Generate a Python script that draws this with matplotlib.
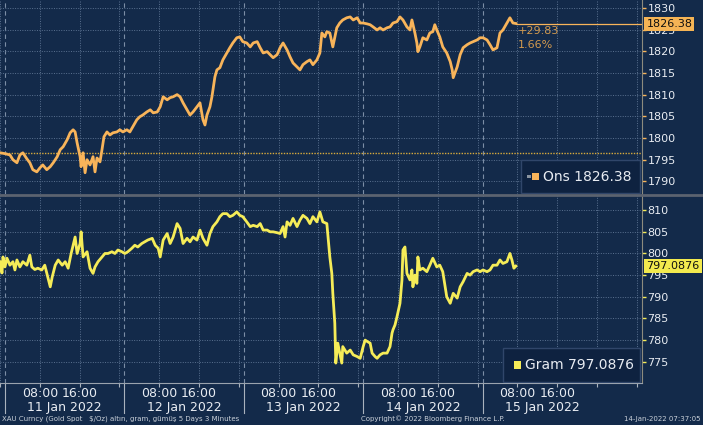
import matplotlib.pyplot as plt
import matplotlib.transforms as mtransforms
from matplotlib.patches import Rectangle
from matplotlib.lines import Line2D

plt.rcParams['font.family'] = ['DejaVu Sans']

# time axis is hours since 11 Jan 00:00 (chart time)
ons_t = [0.0, 1.0, 2.0, 2.6, 3.4, 4.0, 4.6, 5.4, 6.0, 6.6,
         7.4, 8.0, 8.6, 9.4, 10.1, 10.7, 11.5, 12.1, 12.7, 13.5,
         14.1, 14.7, 15.1, 15.5, 16.1, 16.3, 16.7, 17.1, 17.5, 18.1,
         18.7, 19.1, 19.5, 20.1, 20.5, 20.9, 21.5, 22.1, 22.7, 23.5,
         24.1, 24.7, 25.5, 26.1, 26.7, 27.5, 28.1, 28.7, 29.5, 30.2,
         30.8, 31.6, 32.2, 32.8, 33.6, 34.2, 34.8, 35.6, 36.2, 36.8,
         37.6, 38.2, 38.8, 39.6, 40.2, 40.8, 41.2, 41.6, 42.2, 42.6,
         43.2, 43.6, 44.2, 44.8, 45.6, 46.2, 46.8, 47.6, 48.2, 48.8,
         49.6, 50.3, 50.9, 51.7, 52.3, 52.9, 53.7, 54.3, 54.9, 55.7,
         56.3, 56.9, 57.7, 58.3, 58.9, 59.7, 60.3, 60.9, 61.7, 62.3,
         62.9, 63.7, 64.3, 64.7, 65.3, 65.7, 66.3, 66.9, 67.7, 68.3,
         68.9, 69.7,
         70.4, 71.0, 71.8, 72.4, 73.0, 73.8, 74.4, 75.0, 75.8, 76.4,
         77.0, 77.8, 78.4, 79.0, 79.8, 80.4, 81.0, 81.8, 82.4, 82.8,
         83.4, 83.8, 84.0, 84.4, 85.0, 85.8, 86.4, 87.0, 87.4, 87.8,
         88.4, 89.0, 89.4, 89.8, 90.5, 90.9, 91.1, 91.9, 92.5, 93.1,
         93.9, 94.5, 95.1, 95.9, 96.5, 97.1, 97.9, 98.5, 99.1, 99.9,
         100.5, 101.1, 101.9, 102.5, 103.1, 103.7]
ons_v = [1796.6, 1796.4, 1796.1, 1795.0, 1794.3, 1796.1, 1796.6, 1795.2, 1794.3, 1792.7,
         1792.2, 1793.1, 1793.8, 1792.7, 1793.4, 1794.3, 1795.7, 1797.3, 1798.0, 1799.6,
         1801.2, 1801.9, 1801.4, 1798.9, 1795.7, 1793.4, 1796.6, 1792.0, 1795.0, 1793.8,
         1795.7, 1792.2, 1795.4, 1794.5, 1797.3, 1800.3, 1801.4, 1800.7, 1801.2, 1801.4,
         1801.9, 1801.4, 1801.9, 1801.4, 1802.6, 1804.2, 1804.9, 1805.3, 1806.0, 1806.5,
         1805.8, 1806.0, 1807.2, 1809.5, 1808.8, 1809.3, 1809.5, 1810.0, 1809.5, 1808.1,
         1806.5, 1805.3, 1806.0, 1807.2, 1808.1, 1804.2, 1803.0, 1805.3, 1807.2, 1809.5,
         1814.1, 1815.7, 1816.2, 1818.0, 1819.6, 1820.8, 1821.9, 1823.1, 1823.3, 1822.2,
         1821.9, 1821.0, 1821.9, 1822.2, 1820.8, 1819.6, 1819.9, 1819.2, 1818.5, 1819.2,
         1820.8, 1821.9, 1820.3, 1818.7, 1817.3, 1816.4, 1815.7, 1816.9, 1817.6, 1818.0,
         1816.9, 1818.0, 1819.6, 1824.2, 1823.3, 1824.5, 1824.2, 1821.0, 1825.4, 1826.5,
         1827.2, 1827.7,
         1827.9, 1827.2, 1827.7, 1826.5, 1826.5, 1826.3, 1826.1, 1825.6, 1824.9, 1825.4,
         1824.9, 1825.4, 1825.6, 1826.5, 1826.8, 1827.9, 1827.2, 1825.6, 1824.9, 1827.2,
         1824.2, 1821.9, 1819.9, 1821.0, 1823.1, 1822.6, 1824.2, 1824.5, 1826.1, 1824.9,
         1823.3, 1821.0, 1820.3, 1819.6, 1817.6, 1815.7, 1813.9, 1816.4, 1819.2, 1820.8,
         1821.5, 1821.9, 1822.2, 1822.6, 1823.1, 1823.1, 1822.6, 1821.5, 1820.3, 1820.8,
         1824.2, 1824.9, 1826.5, 1827.7, 1826.5, 1826.38]
ons_prev_close = 1796.55

gram_t = [0.0, 0.4, 0.6, 1.0, 1.4, 2.0, 2.6, 3.0, 3.4, 4.0,
          4.6, 5.4, 6.0, 6.4, 7.0, 7.6, 8.4, 9.0, 9.6, 10.1,
          10.5, 11.1, 11.7, 12.5, 13.1, 13.7, 14.3, 15.1, 15.5, 16.1,
          16.3, 16.7, 17.5, 18.1, 18.7, 19.1, 19.7, 20.5, 21.1, 21.7,
          22.5, 23.1, 23.7, 24.5, 25.1, 25.7, 26.5, 27.1, 27.7, 28.5,
          29.1, 29.7, 30.6, 31.2, 31.8, 32.2, 32.8, 33.6, 34.2, 34.8,
          35.6, 36.2, 36.8, 37.6, 38.2, 38.8, 39.6, 40.2, 40.8, 41.6,
          42.2, 42.8, 43.6, 44.2, 44.8, 45.6, 46.2, 46.8, 47.6, 48.2,
          48.8, 49.6, 50.3, 50.9, 51.7, 52.3, 52.9, 53.7, 54.3, 54.9,
          55.7, 56.3, 56.9, 57.3, 57.7, 58.3, 58.9, 59.7, 60.3, 60.9,
          61.7, 62.3, 62.9, 63.7, 64.3, 64.9, 65.7, 66.3, 66.7, 66.9,
          67.3, 67.5, 67.9, 68.3, 68.7, 68.9, 69.7, 70.4,
          71.0, 71.8, 72.4, 73.0, 73.4, 73.8, 74.4, 74.8, 75.4, 75.8,
          76.4, 77.0, 77.8, 78.4, 78.8, 79.0, 79.4, 79.8, 80.4, 80.8,
          81.0, 81.4, 81.8, 82.4, 82.8, 83.0, 83.4, 83.8, 84.0, 84.4,
          85.0, 85.8, 86.4, 87.0, 87.8, 88.4, 89.0, 89.8, 90.5, 91.1,
          91.9, 92.5, 93.1, 93.9, 94.5, 95.1, 95.9, 96.5, 97.1, 97.9,
          98.5, 99.1, 99.9, 100.5, 101.1, 101.9, 102.5, 102.9, 103.3, 103.7]
gram_v = [798.1, 795.5, 799.2, 796.9, 798.9, 797.3, 798.1, 796.2, 798.5, 796.9,
          798.1, 797.3, 799.6, 796.9, 796.3, 796.6, 796.2, 797.3, 794.6, 792.3,
          794.6, 797.3, 798.5, 797.3, 798.1, 796.6, 800.0, 803.8, 800.0, 802.3,
          805.0, 799.2, 800.4, 796.6, 795.4, 796.9, 798.1, 799.2, 800.0, 800.0,
          800.4, 800.0, 800.8, 800.4, 800.0, 800.4, 801.2, 801.9, 801.5, 802.3,
          802.7, 803.1, 803.5, 801.9, 801.2, 799.2, 803.1, 804.6, 802.3, 803.8,
          806.9, 805.8, 802.3, 803.5, 802.7, 803.8, 803.1, 805.4, 803.5, 801.9,
          804.6, 806.2, 807.3, 808.5, 809.2, 809.2, 808.5, 808.8, 809.6, 808.8,
          808.5, 807.3, 806.2, 806.5, 806.2, 806.9, 805.4, 805.4, 805.0, 805.0,
          804.8, 804.6, 806.2, 803.8, 807.3, 806.5, 808.1, 806.2, 807.7, 808.8,
          808.1, 806.9, 808.5, 807.3, 809.6, 807.3, 806.9, 799.2, 795.4, 790.8,
          783.9, 774.7, 779.3, 777.0, 774.7, 778.5, 777.0, 777.7,
          776.6, 776.2, 775.8, 778.5, 780.0, 779.7, 779.3, 777.0, 776.2, 775.8,
          776.6, 777.0, 777.0, 778.5, 781.6, 782.4, 783.5, 785.4, 788.5, 793.9,
          800.8, 801.5, 795.4, 793.9, 796.2, 792.3, 795.0, 793.1, 799.2, 796.2,
          796.6, 795.8, 797.3, 798.9, 796.9, 797.3, 795.8, 790.0, 788.5, 790.8,
          789.7, 792.3, 793.5, 795.4, 795.0, 795.8, 796.2, 795.8, 796.2, 795.8,
          796.2, 797.3, 797.3, 798.5, 797.7, 798.1, 800.0, 798.5, 796.6, 797.0876]

day_labels = ['11 Jan 2022', '12 Jan 2022', '13 Jan 2022', '14 Jan 2022', '15 Jan 2022']
ons_ticks = [1790, 1795, 1800, 1805, 1810, 1815, 1820, 1825, 1830]
gram_ticks = [775, 780, 785, 790, 795, 800, 805, 810]

BG = '#132a4a'
GRID = '#5a7190'
ORANGE = '#f8b45a'
YELLOW = '#f5ec58'
TXT = '#e8ecf2'

W, H = 703, 425
fig = plt.figure(figsize=(W / 100, H / 100), dpi=100, facecolor=BG)


def px_box(x0, y0, x1, y1):
    return [x0 / W, 1 - y1 / H, (x1 - x0) / W, (y1 - y0) / H]


ax_top = fig.add_axes(px_box(0, 0, 642, 194))
ax_bot = fig.add_axes(px_box(0, 195, 642, 383))

xmax = 129.05
grid_hours = list(range(0, 129, 8))
day_starts = [1 + 24 * k for k in range(5)]

for ax, col in [(ax_top, ORANGE), (ax_bot, YELLOW)]:
    ax.set_facecolor(BG)
    ax.set_xlim(0, xmax)
    for s in ['top', 'left', 'bottom']:
        ax.spines[s].set_visible(False)
    ax.spines['right'].set_color('#8d8b7e')
    ax.yaxis.tick_right()
    ax.tick_params(axis='y', colors=col, labelcolor=TXT, labelsize=8,
                   length=3, width=1, pad=1)
    ax.set_xticks(grid_hours)
    ax.grid(True, color=GRID, ls=(0, (1, 1.5)), lw=0.7)
    for d in day_starts:
        ax.axvline(d, color='#7c8ea6', ls=(0, (4, 3)), lw=0.8, zorder=1)

ax_top.set_ylim(1787.1, 1831.8)
ax_top.set_yticks(ons_ticks)
ax_top.tick_params(axis='x', length=0, labelbottom=False)

ax_bot.set_ylim(770.1, 813.5)
ax_bot.set_yticks(gram_ticks)
# only the five labelled days carry 08:00 / 16:00 labels
hour_labels = ['' if (h % 24 == 0 or h >= 120) else '%02d:00' % (h % 24)
               for h in grid_hours]
ax_bot.set_xticklabels(hour_labels)
ax_bot.tick_params(axis='x', colors='#a9b2bd', labelcolor=TXT, labelsize=9,
                   length=3, width=0.8, pad=0)
ax_bot.spines['bottom'].set_visible(True)
ax_bot.spines['bottom'].set_color('#9aa3ae')

# series
ax_top.plot(ons_t, ons_v, color=ORANGE, lw=2.0, zorder=3)
ax_bot.plot(gram_t, gram_v, color=YELLOW, lw=2.0, zorder=3)

# previous close + last value line
ax_top.axhline(ons_prev_close, color='#d8aa3c', ls=(0, (1, 1)), lw=1, zorder=2)
ax_top.hlines(ons_v[-1], ons_t[-1], xmax, color=ORANGE, lw=0.9, zorder=2)

chg = ons_v[-1] - ons_prev_close
ax_top.text(ons_t[-1] + 0.3, 1824.7, '+%.2f' % chg, color='#d39a4e', fontsize=8,
            ha='left', va='center')
ax_top.text(ons_t[-1] + 0.3, 1821.5, '%.2f%%' % (chg / ons_prev_close * 100),
            color='#d39a4e', fontsize=8, ha='left', va='center')

# value tags on the right axis (they sit over the 1825 / 795 labels, as in the original)
for ax, val, txt, col in [(ax_top, ons_v[-1], '%.2f' % ons_v[-1], '#f5b455'),
                          (ax_bot, gram_v[-1], '%.4f' % gram_v[-1], '#f3ea4e')]:
    tr = mtransforms.blended_transform_factory(ax.transAxes, ax.transData)
    ax.text(1.007, val, txt, transform=tr, ha='left', va='center', fontsize=8,
            color='#101010', clip_on=False, zorder=10,
            bbox=dict(boxstyle='square,pad=0.18', fc=col, ec='none'))

# legend boxes
def legend_box(ax, x0, x1, y1, label, col, extra_gray=False):
    ax.add_patch(Rectangle((x0, 0.005), x1 - x0, y1 - 0.005, transform=ax.transAxes,
                           fc='#0e2240', ec='#30466a', lw=1, zorder=6))
    ax.text(x0 + 0.035, (y1 + 0.005) / 2, label, transform=ax.transAxes, fontsize=10,
            color=TXT, ha='left', va='center', zorder=7)
    ax.add_patch(Rectangle((x0 + 0.017, (y1 + 0.005) / 2 - 0.02), 0.011, 0.04,
                           transform=ax.transAxes, fc=col, ec='none', zorder=7))
    if extra_gray:
        ax.add_patch(Rectangle((x0 + 0.010, (y1 + 0.005) / 2 - 0.01), 0.006, 0.02,
                               transform=ax.transAxes, fc='#8a94a0', ec='none', zorder=7))


legend_box(ax_top, 0.8115, 0.9969, 0.175, 'Ons %.2f' % ons_v[-1], ORANGE, extra_gray=True)
legend_box(ax_bot, 0.7835, 0.9969, 0.186, 'Gram %.4f' % gram_v[-1], YELLOW)

# x axis day labels and separators
trx = mtransforms.blended_transform_factory(ax_bot.transData, ax_bot.transAxes)
for k, lab in enumerate(day_labels):
    ax_bot.text(13 + 24 * k, -0.128, lab, transform=trx, ha='center', va='center',
                fontsize=9, color=TXT)
    ax_bot.add_line(Line2D([day_starts[k]] * 2, [0, -0.16], transform=trx,
                           color='#a9b2bd', lw=0.8, clip_on=False))

# panel separator
fig.add_artist(Line2D([0, 1], [1 - 194.5 / H] * 2, transform=fig.transFigure,
                      color='#5b6370', lw=2))

# footer
fig.text(2 / W, 0.014, 'XAU Curncy (Gold Spot   $/Oz) altın, gram, gümüş 5 Days 3 Minutes',
         fontsize=5, color='#c9d0d9', ha='left', va='center')
fig.text(361 / W, 0.014, 'Copyright© 2022 Bloomberg Finance L.P.',
         fontsize=5, color='#c9d0d9', ha='left', va='center')
fig.text(701 / W, 0.014, '14-Jan-2022 07:37:05',
         fontsize=5, color='#c9d0d9', ha='right', va='center')

fig.savefig('out.png', dpi=100, facecolor=BG)
